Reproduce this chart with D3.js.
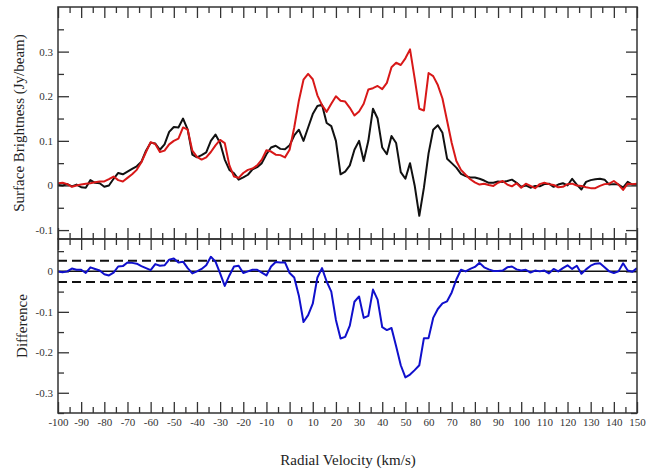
<!DOCTYPE html>
<html>
<head>
<meta charset="utf-8">
<script src="https://cdn.jsdelivr.net/npm/d3@7"></script>
<style>
  html, body { margin: 0; padding: 0; background: #fff; }
  svg { display: block; }
  svg text { font-family: "Liberation Serif", "DejaVu Serif", "Times New Roman", Times, serif; }
  .tick text { font-size: 11px; fill: #333; }
  .title { font-size: 15px; fill: #222; }
</style>
</head>
<body>
<svg id="chart" width="657" height="468"></svg>
<script>
// Channel velocities (km/s), one spectral channel every 2 km/s
const velocity = d3.range(-100, 151, 2);

// Surface brightness (Jy/beam) of the two spectra
const blackFlux = [
  0.001, 0.000, 0.003, -0.002, 0.002, -0.004, -0.005, 0.012, 0.006, 0.005,
  -0.003, 0.000, 0.015, 0.028, 0.025, 0.031, 0.037, 0.043, 0.053, 0.078,
  0.096, 0.094, 0.080, 0.092, 0.120, 0.131, 0.130, 0.150, 0.125, 0.069,
  0.063, 0.068, 0.074, 0.100, 0.114, 0.095, 0.058, 0.035, 0.027, 0.013,
  0.018, 0.024, 0.036, 0.041, 0.050, 0.070, 0.085, 0.089, 0.082, 0.081,
  0.090, 0.112, 0.125, 0.100, 0.130, 0.160, 0.178, 0.181, 0.140, 0.133,
  0.100, 0.025, 0.031, 0.045, 0.080, 0.100, 0.055, 0.100, 0.172, 0.150,
  0.085, 0.070, 0.111, 0.095, 0.030, 0.015, 0.050, 0.000, -0.068, -0.005,
  0.072, 0.125, 0.135, 0.118, 0.060, 0.050, 0.040, 0.026, 0.021, 0.018,
  0.018, 0.015, 0.011, 0.006, 0.006, 0.009, 0.008, 0.010, 0.013, 0.006,
  -0.003, 0.000, -0.005, -0.001, -0.002, 0.003, 0.004, -0.003, 0.002, 0.005,
  0.000, 0.015, 0.002, -0.009, 0.008, 0.012, 0.014, 0.015, 0.013, 0.002,
  0.003, 0.002, -0.005, 0.008, 0.002, 0.002
];
const redFlux = [
  0.005, 0.006, 0.003, -0.003, 0.000, 0.002, 0.004, 0.005, 0.007, 0.009,
  0.009, 0.014, 0.020, 0.012, 0.009, 0.017, 0.025, 0.035, 0.052, 0.075,
  0.097, 0.093, 0.075, 0.078, 0.092, 0.100, 0.105, 0.130, 0.125, 0.078,
  0.064, 0.058, 0.063, 0.075, 0.090, 0.102, 0.095, 0.045, 0.020, 0.017,
  0.028, 0.035, 0.038, 0.045, 0.058, 0.079, 0.076, 0.069, 0.068, 0.063,
  0.080, 0.130, 0.190, 0.237, 0.250, 0.238, 0.202, 0.180, 0.165, 0.183,
  0.200, 0.190, 0.188, 0.174, 0.157, 0.166, 0.183, 0.215, 0.218, 0.223,
  0.216, 0.230, 0.265, 0.275, 0.270, 0.285, 0.305, 0.240, 0.172, 0.168,
  0.252, 0.245, 0.225, 0.195, 0.145, 0.095, 0.055, 0.035, 0.024, 0.014,
  0.007, 0.002, 0.004, 0.001, -0.001, 0.006, 0.010, 0.002, -0.002, 0.005,
  -0.005, 0.004, -0.001, -0.006, 0.003, 0.006, 0.003, 0.001, -0.004, -0.003,
  0.003, 0.004, 0.000, -0.001, -0.004, -0.006, -0.006, -0.001, 0.003, 0.004,
  0.010, 0.002, -0.010, 0.004, 0.003, 0.004
];
// Difference spectrum (Jy/beam)
const difference = [
  0.000, -0.002, 0.000, 0.007, 0.004, 0.004, -0.004, 0.010, 0.006, 0.002,
  -0.007, -0.010, -0.003, 0.012, 0.013, 0.022, 0.021, 0.019, 0.013, 0.008,
  0.003, 0.018, 0.014, 0.015, 0.029, 0.032, 0.022, 0.024, 0.008, -0.005,
  0.000, 0.006, 0.015, 0.036, 0.024, -0.005, -0.036, -0.010, 0.012, 0.014,
  -0.004, 0.000, 0.004, 0.004, -0.003, -0.010, 0.012, 0.023, 0.022, 0.022,
  -0.004, -0.015, -0.060, -0.125, -0.108, -0.080, -0.015, 0.008, -0.025, -0.050,
  -0.120, -0.166, -0.162, -0.134, -0.075, -0.062, -0.115, -0.110, -0.045, -0.070,
  -0.138, -0.145, -0.140, -0.185, -0.232, -0.262, -0.255, -0.244, -0.232, -0.165,
  -0.165, -0.115, -0.093, -0.079, -0.074, -0.052, -0.020, 0.004, 0.000, 0.006,
  0.011, 0.021, 0.010, 0.005, 0.001, 0.001, 0.002, 0.010, 0.012, 0.005,
  0.002, 0.004, -0.003, 0.002, 0.000, 0.002, -0.005, 0.006, 0.000, 0.008,
  0.015, 0.006, 0.014, -0.006, 0.005, 0.014, 0.019, 0.020, 0.010, 0.000,
  -0.004, 0.000, 0.020, 0.002, -0.001, 0.008
];
// Noise level drawn as dashed lines in the lower panel
const noiseLevel = [0.026, -0.026];

// Axis ticks and labels
const xMajorTicks = [-100, -90, -80, -70, -60, -50, -40, -30, -20, -10, 0, 10, 20, 30, 40, 50, 60, 70, 80, 90, 100, 110, 120, 130, 140, 150];
const xMinorTicks = [-95, -85, -75, -65, -55, -45, -35, -25, -15, -5, 5, 15, 25, 35, 45, 55, 65, 75, 85, 95, 105, 115, 125, 135, 145];
const topMajorTicks = [-0.1, 0, 0.1, 0.2, 0.3];
const topTickLabels = ["-0.1", "0", "0.1", "0.2", "0.3"];
const topMinorTicks = [-0.05, 0.05, 0.15, 0.25, 0.35];
const botMajorTicks = [-0.3, -0.2, -0.1, 0];
const botTickLabels = ["-0.3", "-0.2", "-0.1", "0"];
const botMinorTicks = [-0.35, -0.25, -0.15, -0.05, 0.05];

const svg = d3.select("#chart");
const left = 58, right = 637;
const topY0 = 7, topY1 = 239, botY1 = 413;
const serif = '"Liberation Serif", "DejaVu Serif", "Times New Roman", Times, serif';

const x = d3.scaleLinear().domain([-100, 150]).range([left, right]);
const yTop = d3.scaleLinear().domain([-0.12, 0.40]).range([topY1, topY0]);
const yBot = d3.scaleLinear().domain([-0.35, 0.08]).range([botY1, topY1]);

const defs = svg.append("defs");
defs.append("clipPath").attr("id", "clipTop").append("rect")
  .attr("x", left).attr("y", topY0).attr("width", right - left).attr("height", topY1 - topY0);
defs.append("clipPath").attr("id", "clipBot").append("rect")
  .attr("x", left).attr("y", topY1).attr("width", right - left).attr("height", botY1 - topY1);

const tickColor = "#333";
const MAJ = 11, MIN = 6;

function styleAxis(g) {
  g.attr("font-family", serif).attr("font-size", 11);
  g.select(".domain").remove();
  g.selectAll(".tick line").attr("stroke", tickColor).attr("stroke-width", 1.3);
}

// Draws inward-pointing ticks on all four sides of a panel
function panelAxes(yScale, y0, y1, majY, labY, minY, showXLabels) {
  const bx = svg.append("g").attr("transform", `translate(0,${y1})`)
    .call(d3.axisBottom(x).tickValues(xMajorTicks).tickSize(-MAJ).tickPadding(5)
      .tickFormat(showXLabels ? (d => String(d)) : () => ""));
  styleAxis(bx);
  styleAxis(svg.append("g").attr("transform", `translate(0,${y1})`)
    .call(d3.axisBottom(x).tickValues(xMinorTicks).tickSize(-MIN).tickFormat(() => "")));
  styleAxis(svg.append("g").attr("transform", `translate(0,${y0})`)
    .call(d3.axisTop(x).tickValues(xMajorTicks).tickSize(-MAJ).tickFormat(() => "")));
  styleAxis(svg.append("g").attr("transform", `translate(0,${y0})`)
    .call(d3.axisTop(x).tickValues(xMinorTicks).tickSize(-MIN).tickFormat(() => "")));

  const ly = svg.append("g").attr("transform", `translate(${left},0)`)
    .call(d3.axisLeft(yScale).tickValues(majY).tickSize(-MAJ).tickPadding(5)
      .tickFormat((d, i) => labY[i]));
  styleAxis(ly);
  styleAxis(svg.append("g").attr("transform", `translate(${left},0)`)
    .call(d3.axisLeft(yScale).tickValues(minY).tickSize(-MIN).tickFormat(() => "")));
  styleAxis(svg.append("g").attr("transform", `translate(${right},0)`)
    .call(d3.axisRight(yScale).tickValues(majY).tickSize(-MAJ).tickFormat(() => "")));
  styleAxis(svg.append("g").attr("transform", `translate(${right},0)`)
    .call(d3.axisRight(yScale).tickValues(minY).tickSize(-MIN).tickFormat(() => "")));
}

panelAxes(yTop, topY0, topY1, topMajorTicks, topTickLabels, topMinorTicks, false);
panelAxes(yBot, topY1, botY1, botMajorTicks, botTickLabels, botMinorTicks, true);

// Spectra in the upper panel
const lineTop = d3.line().x((d, i) => x(velocity[i])).y(d => yTop(d));
const gTop = svg.append("g").attr("clip-path", "url(#clipTop)");
gTop.append("path").datum(blackFlux).attr("d", lineTop)
  .attr("fill", "none").attr("stroke", "#111").attr("stroke-width", 2).attr("stroke-linejoin", "round");
gTop.append("path").datum(redFlux).attr("d", lineTop)
  .attr("fill", "none").attr("stroke", "#d81818").attr("stroke-width", 2).attr("stroke-linejoin", "round");

// Lower panel: zero line, noise levels and the difference spectrum
const gBot = svg.append("g").attr("clip-path", "url(#clipBot)");
gBot.append("line").attr("x1", left).attr("x2", right)
  .attr("y1", yBot(0)).attr("y2", yBot(0)).attr("stroke", "#111").attr("stroke-width", 1.5);
gBot.selectAll("line.noise").data(noiseLevel).join("line").attr("class", "noise")
  .attr("x1", left).attr("x2", right)
  .attr("y1", d => yBot(d)).attr("y2", d => yBot(d))
  .attr("stroke", "#111").attr("stroke-width", 2).attr("stroke-dasharray", "9,5");
const lineBot = d3.line().x((d, i) => x(velocity[i])).y(d => yBot(d));
gBot.append("path").datum(difference).attr("d", lineBot)
  .attr("fill", "none").attr("stroke", "#1010cc").attr("stroke-width", 2).attr("stroke-linejoin", "round");

// Panel frames
[[topY0, topY1], [topY1, botY1]].forEach(([a, b]) => {
  svg.append("rect").attr("x", left).attr("y", a).attr("width", right - left).attr("height", b - a)
    .attr("fill", "none").attr("stroke", "#333").attr("stroke-width", 1.5);
});

// Axis titles
svg.append("text").attr("class", "title").attr("font-family", serif).attr("text-anchor", "middle")
  .attr("x", 348).attr("y", 465).text("Radial Velocity (km/s)");
svg.append("text").attr("class", "title").attr("font-family", serif).attr("text-anchor", "middle")
  .attr("transform", `translate(24,${(topY0 + topY1) / 2}) rotate(-90)`).text("Surface Brightness (Jy/beam)");
svg.append("text").attr("class", "title").attr("font-family", serif).attr("text-anchor", "middle")
  .attr("transform", `translate(27,${(topY1 + botY1) / 2}) rotate(-90)`).text("Difference");
</script>
</body>
</html>
